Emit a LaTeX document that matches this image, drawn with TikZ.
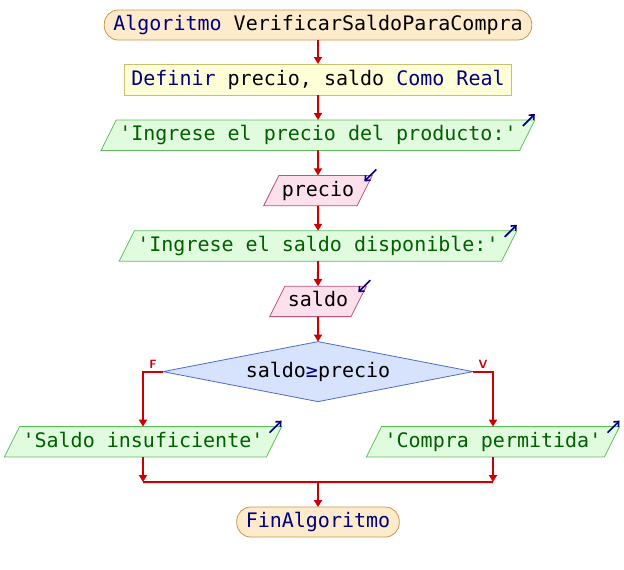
\documentclass[tikz,border=0pt]{standalone}
\usepackage{fontspec}
\setmonofont{DejaVu Sans Mono}
\usepackage{xcolor}
\usepackage{tikz}
\usetikzlibrary{shapes.geometric,arrows.meta,positioning,calc}

\definecolor{flowred}{HTML}{CC0000}
\definecolor{kwblue}{HTML}{000080}
\definecolor{termfill}{HTML}{FDEBCB}
\definecolor{termdraw}{HTML}{C8964F}
\definecolor{declfill}{HTML}{FFFFD7}
\definecolor{decldraw}{HTML}{C8C070}
\definecolor{outfill}{HTML}{E1FBDE}
\definecolor{outdraw}{HTML}{5CBF5C}
\definecolor{outtext}{HTML}{006000}
\definecolor{infill}{HTML}{FCE1EC}
\definecolor{indraw}{HTML}{C05080}
\definecolor{condfill}{HTML}{D7E3FC}
\definecolor{conddraw}{HTML}{4C6CC8}

\begin{document}
\begin{tikzpicture}[
    x=1pt, y=1pt,
    node distance=25pt,
    base/.style={draw, line width=0.8pt, outer sep=0pt, minimum height=30pt, inner ysep=0pt, text height=15pt, text depth=4pt, font=\ttfamily\fontsize{20}{24}\selectfont},
    term/.style={base, rectangle, rounded corners=14pt, fill=termfill, draw=termdraw, inner xsep=9pt},
    decl/.style={base, rectangle, fill=declfill, draw=decldraw, inner xsep=7pt, minimum height=31pt},
    outbox/.style={base, trapezium, trapezium left angle=63.4, trapezium right angle=116.6, minimum height=0pt, inner ysep=5.7pt, fill=outfill, draw=outdraw, text=outtext, inner xsep=3pt},
    inbox/.style={outbox, fill=infill, draw=indraw, text=black},
    cond/.style={base, diamond, aspect=5.17, fill=condfill, draw=conddraw, minimum width=310pt, minimum height=60pt, inner sep=0pt},
    arrow/.style={-{Triangle[length=7pt,width=8pt]}, line width=2pt, draw=flowred},
    icon/.style={->, >={Straight Barb[length=4pt,width=7pt]}, line width=1.6pt, draw=kwblue},
    lbl/.style={font=\sffamily\bfseries\fontsize{12}{13}\selectfont, text=flowred, inner sep=2pt}
]
\useasboundingbox (0,0) rectangle (624,-570);

% Main column
\node[term] (start) at (318,-25) {\textcolor{kwblue}{Algoritmo} VerificarSaldoParaCompra};
\node[decl, below=24pt of start] (define) {\textcolor{kwblue}{Definir} precio, saldo \textcolor{kwblue}{Como Real}};
\node[outbox, below=of define] (out1) {'Ingrese el precio del producto:'};
\node[inbox, below=of out1] (precio) {precio};
\node[outbox, below=of precio] (out2) {'Ingrese el saldo disponible:'};
\node[inbox, below=of out2] (saldo) {saldo};
\node[cond, below=of saldo] (check) {saldo\textcolor{kwblue}{≥}precio};

% Branches
\node[outbox, below=of check, xshift=-175pt] (out3) {'Saldo insuficiente'};
\node[outbox, below=of check, xshift=175pt] (out4) {'Compra permitida'};

% Merge point
\coordinate (jl) at ($(out3.south)+(0,-25)$);
\coordinate (jr) at ($(out4.south)+(0,-25)$);
\coordinate (jm) at (jl -| check);
\node[term, below=of jm] (fin) {\textcolor{kwblue}{FinAlgoritmo}};

% Arrows
\draw[arrow] (start) -- (define);
\draw[arrow] (define) -- (out1);
\draw[arrow] (out1) -- (precio);
\draw[arrow] (precio) -- (out2);
\draw[arrow] (out2) -- (saldo);
\draw[arrow] (saldo) -- (check);
\draw[arrow] (check.west) -| node[lbl, pos=0.25, above] {F} (out3.north);
\draw[arrow] (check.east) -| node[lbl, pos=0.25, above] {V} (out4.north);
\draw[arrow] (out3.south) -- (jl);
\draw[arrow] (out4.south) -- (jr);
\draw[line width=2pt, draw=flowred] (jl) -- (jr);
\draw[arrow] (jm) -- (fin);

% Input/output marks
\foreach \n in {out1,out2,out3,out4}
    \draw[icon] ($(\n.top right corner)+(-12,-6)$) -- ++(12,12);
\foreach \n in {precio,saldo}
    \draw[icon] ($(\n.top right corner)+(4,6)$) -- ++(-12,-12);

\end{tikzpicture}
\end{document}
